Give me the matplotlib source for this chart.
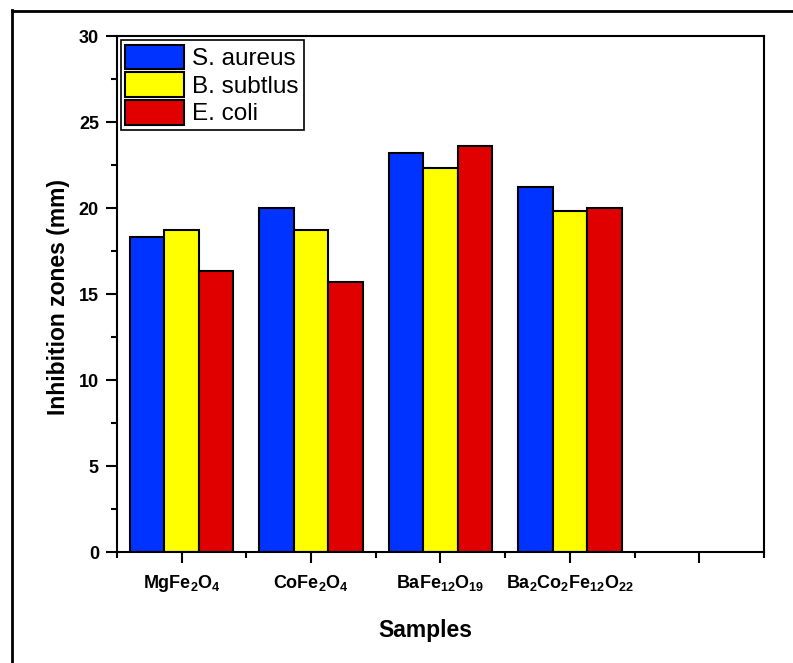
import numpy as np
import matplotlib
matplotlib.use("Agg")
import matplotlib.pyplot as plt
from matplotlib.lines import Line2D
from matplotlib.ticker import MultipleLocator

plt.rcParams['font.family'] = ['Liberation Sans', 'DejaVu Sans']
plt.rcParams['mathtext.fontset'] = 'custom'
plt.rcParams['mathtext.rm'] = 'Liberation Sans:bold'
plt.rcParams['mathtext.it'] = 'Liberation Sans:bold'
plt.rcParams['mathtext.bf'] = 'Liberation Sans:bold'
plt.rcParams['mathtext.default'] = 'rm'

categories = [r'MgFe$_2$O$_4$', r'CoFe$_2$O$_4$', r'BaFe$_{12}$O$_{19}$',
              r'Ba$_2$Co$_2$Fe$_{12}$O$_{22}$', '']
series_names = ['S. aureus', 'B. subtlus', 'E. coli']
s_aureus = [18.3, 20.0, 23.2, 21.2]
b_subtlus = [18.7, 18.7, 22.3, 19.8]
e_coli = [16.35, 15.7, 23.6, 20.0]
colors = ['#0033FF', '#FFFF00', '#E00000']

fig = plt.figure(figsize=(7.93, 6.63), dpi=100)
ax = fig.add_axes([0.1475, 0.1674, 0.8159, 0.7783])

x = np.arange(1, len(s_aureus) + 1)
w = 0.266
for i, (vals, name, c) in enumerate(zip([s_aureus, b_subtlus, e_coli], series_names, colors)):
    ax.bar(x + (i - 1) * w, vals, width=w, color=c, edgecolor='black',
           linewidth=1.5, label=name, zorder=2)

ax.set_xlim(0.5, 5.5)
ax.set_ylim(0, 30)
ax.set_xticks(np.arange(1, len(categories) + 1))
ax.set_xticklabels(categories, fontsize=13, fontweight='bold')
ax.xaxis.set_minor_locator(MultipleLocator(0.5))
ax.yaxis.set_major_locator(MultipleLocator(5))
ax.yaxis.set_minor_locator(MultipleLocator(2.5))
ax.tick_params(axis='both', which='major', direction='out', length=8, width=1.5, pad=5)
ax.tick_params(axis='both', which='minor', direction='out', length=4.5, width=1.5)
ax.tick_params(axis='x', which='major', pad=7)
for lab in ax.get_yticklabels():
    lab.set_fontweight('bold')
    lab.set_fontsize(13)
for sp in ax.spines.values():
    sp.set_linewidth(1.5)

ax.set_ylabel('Inhibition zones (mm)', fontsize=16.5, fontweight='bold')
ax.yaxis.set_label_coords(-0.073, 0.494)
ax.set_xlabel('Samples', fontsize=16.5, fontweight='bold')
ax.xaxis.set_label_coords(0.476, -0.13)

leg = ax.legend(loc='upper left', bbox_to_anchor=(0, 1), borderaxespad=0.15,
                fontsize=17.5, handlelength=2.4, handleheight=1.2, labelspacing=0.08,
                borderpad=0.2, handletextpad=0.35, fancybox=False, framealpha=1)
leg.get_frame().set_edgecolor('black')
leg.get_frame().set_linewidth(1.2)

# outer frame lines
fig.add_artist(Line2D([12/793, 12/793], [0, 1 - 10/663], transform=fig.transFigure,
                      color='black', linewidth=2))
fig.add_artist(Line2D([12/793, 1], [1 - 11/663, 1 - 11/663], transform=fig.transFigure,
                      color='black', linewidth=2))

fig.savefig('out.png', dpi=100)
